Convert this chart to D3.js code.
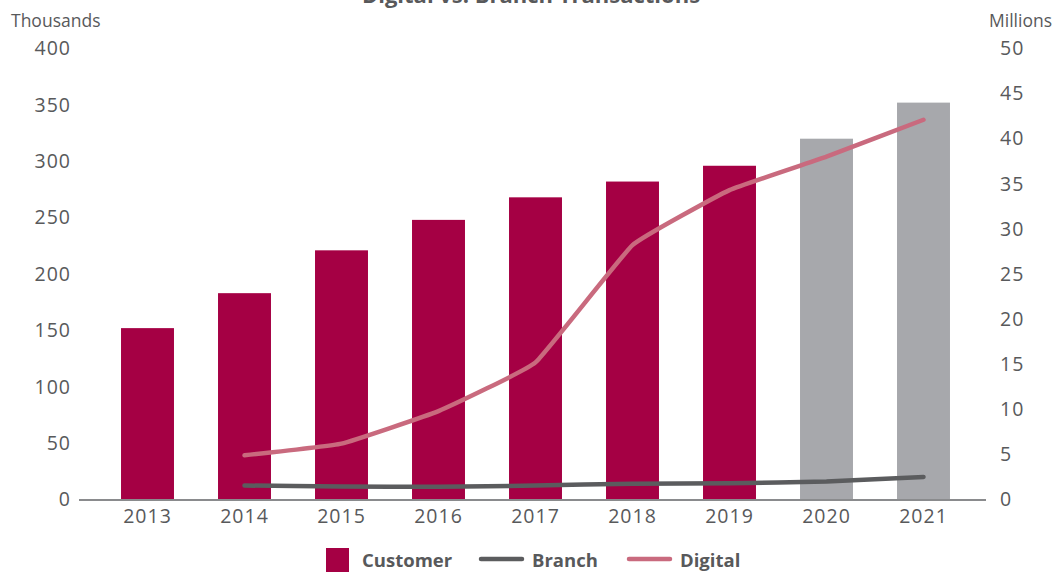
<!DOCTYPE html>
<html><head><meta charset="utf-8">
<script src="https://cdn.jsdelivr.net/npm/d3@7"></script>
<style>body{margin:0;background:#fff}svg{display:block}</style>
</head><body>
<svg id="c" width="1057" height="572"></svg>
<script>
const years = ["2013","2014","2015","2016","2017","2018","2019","2020","2021"];
const customer = [152,183,221,248,268,282,296,320,352];
const customerColors = ["#A50044","#A50044","#A50044","#A50044","#A50044","#A50044","#A50044","#A7A8AC","#A7A8AC"];
const branchYears = ["2014","2015","2016","2017","2018","2019","2020","2021"];
const branch = [1.55,1.45,1.4,1.55,1.75,1.8,2.0,2.5];
const digitalYears = ["2014","2015","2016","2017","2018","2019","2020","2021"];
const digital = [4.9,6.2,9.8,15.2,28.2,34.3,38.0,42.1];
const leftTicks = [0,50,100,150,200,250,300,350,400];
const rightTicks = [0,5,10,15,20,25,30,35,40,45,50];

const svg = d3.select("#c");
const font = "'Open Sans', 'Noto Sans', sans-serif";
const textCol = "#58595B";

const x = d3.scaleBand().domain(years).range([99,972]).paddingInner(0.454).paddingOuter(0.227);
const yL = d3.scaleLinear().domain([0,400]).range([499.5,48.5]);
const yR = d3.scaleLinear().domain([0,50]).range([499.5,48.5]);

// title (partly clipped at top, as in the reference)
svg.append("text").attr("x",531).attr("y",3).attr("text-anchor","middle")
  .attr("font-family",font).attr("font-weight","bold").attr("font-size",22)
  .attr("fill",textCol).text("Digital vs. Branch Transactions");

// bars
svg.append("g").selectAll("rect").data(years).join("rect")
  .attr("x",d=>x(d)).attr("width",x.bandwidth())
  .attr("y",(d,i)=>yL(customer[i])).attr("height",(d,i)=>yL(0)-yL(customer[i]))
  .attr("fill",(d,i)=>customerColors[i]);

// baseline
svg.append("line").attr("x1",79).attr("x2",986).attr("y1",500).attr("y2",500)
  .attr("stroke","#8A8B8D").attr("stroke-width",2);

const tickStyle = sel => sel.attr("font-family",font).attr("font-size",19.5).attr("letter-spacing",1).attr("fill",textCol);

// left axis
const gl = svg.append("g").attr("transform","translate(71,0)")
  .call(d3.axisLeft(yL).tickValues(leftTicks).tickSize(0).tickPadding(0));
gl.select(".domain").remove();
gl.selectAll("text").call(tickStyle);

// right axis
const gr = svg.append("g").attr("transform","translate(1000,0)")
  .call(d3.axisRight(yR).tickValues(rightTicks).tickSize(0).tickPadding(0));
gr.select(".domain").remove();
gr.selectAll("text").call(tickStyle);

// x axis labels
const gx = svg.append("g").attr("transform","translate(0,509)")
  .call(d3.axisBottom(x).tickSize(0).tickPadding(0));
gx.select(".domain").remove();
gx.selectAll("text").call(tickStyle);

// unit labels
svg.append("text").attr("x",11).attr("y",27).attr("font-family",font).attr("font-size",17.5)
  .attr("fill",textCol).text("Thousands");
svg.append("text").attr("x",1052).attr("y",27).attr("text-anchor","end").attr("font-family",font).attr("font-size",17.5)
  .attr("fill",textCol).text("Millions");

// lines
const cx = d => x(d) + x.bandwidth()/2;
const line = d3.line().curve(d3.curveCardinal.tension(0.7));
svg.append("path").attr("d",line(digitalYears.map((d,i)=>[cx(d),yR(digital[i])])))
  .attr("fill","none").attr("stroke","#C96A7E").attr("stroke-width",4.5).attr("stroke-linecap","round").attr("stroke-linejoin","round");
svg.append("path").attr("d",line(branchYears.map((d,i)=>[cx(d),yR(branch[i])])))
  .attr("fill","none").attr("stroke","#5B5C5E").attr("stroke-width",4.5).attr("stroke-linecap","round").attr("stroke-linejoin","round");

// legend
const lg = svg.append("g").attr("font-family",font).attr("font-weight","bold").attr("font-size",18.5).attr("fill",textCol);
lg.append("rect").attr("x",326).attr("y",548).attr("width",23).attr("height",24).attr("fill","#A50044");
lg.append("text").attr("x",362).attr("y",567).text("Customer");
lg.append("line").attr("x1",481).attr("x2",522).attr("y1",559).attr("y2",559).attr("stroke","#5B5C5E").attr("stroke-width",4.5).attr("stroke-linecap","round");
lg.append("text").attr("x",532).attr("y",567).text("Branch");
lg.append("line").attr("x1",629).attr("x2",670).attr("y1",559).attr("y2",559).attr("stroke","#C96A7E").attr("stroke-width",4.5).attr("stroke-linecap","round");
lg.append("text").attr("x",680).attr("y",567).text("Digital");
</script>
</body></html>
